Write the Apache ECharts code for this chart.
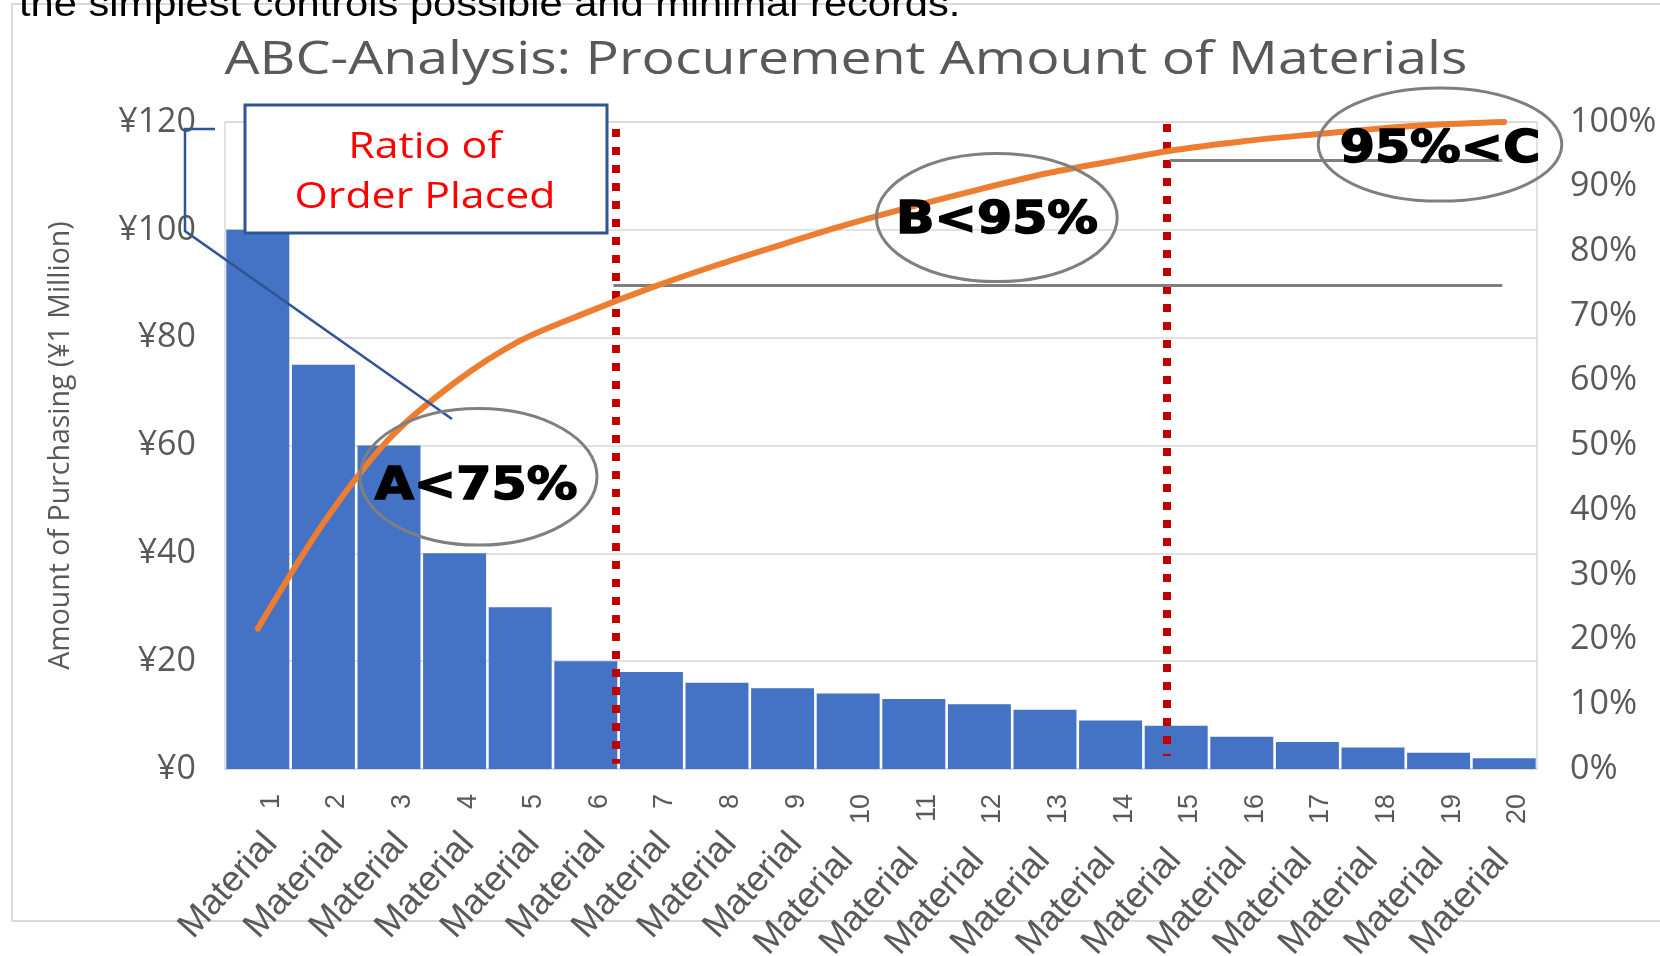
<!DOCTYPE html>
<html><head><meta charset="utf-8">
<script src="https://cdn.jsdelivr.net/npm/echarts@6/dist/echarts.min.js"></script>
<style>html,body{margin:0;padding:0;background:#fff;}#c{width:1660px;height:956px;}</style>
</head><body><div id="c"></div>
<script>
const titleText = 'ABC-Analysis: Procurement Amount of Materials';
const categories = ['Material 1','Material 2','Material 3','Material 4','Material 5','Material 6','Material 7','Material 8','Material 9','Material 10','Material 11','Material 12','Material 13','Material 14','Material 15','Material 16','Material 17','Material 18','Material 19','Material 20'];
const amounts = [100,75,60,40,30,20,18,16,15,14,13,12,11,9,8,6,5,4,3,2];
const cumulativePct = [21.7,38,51,59.7,66.2,70.5,74.4,77.9,81.1,84.2,87,89.6,92,93.9,95.7,97,98,98.9,99.6,100];
const leftAxisName = 'Amount of Purchasing (¥1 Million)';
const zoneLabels = ['A<75%','B<95%','95%<C'];
const calloutText = 'Ratio of\nOrder Placed';
const topNote = 'the simplest controls possible and minimal records.';

const chart = echarts.init(document.getElementById('c'), null, {renderer:'canvas'});
const gray = '#595959';
const font = "'Open Sans', sans-serif";
const red = {color:'#C00000', width:8, type:[8,10], cap:'butt'};
const grayLine = {color:'#7F7F7F', width:3, type:'solid'};
const zoneFont = "bold 44px 'DejaVu Sans'";

chart.setOption({
  animation:false,
  backgroundColor:'#fff',
  grid:{left:225, top:122, width:1312, height:647, show:true, borderColor:'#D9D9D9', borderWidth:1.5,
    containLabel:false, outerBoundsMode:'none'},
  xAxis:[{
    type:'category', data:categories, position:'bottom',
    axisTick:{show:false},
    axisLine:{lineStyle:{color:'#D9D9D9', width:1.5}},
    axisLabel:{rotate:90, interval:0, color:gray, fontSize:27, fontFamily:'Liberation Sans', margin:25,
      verticalAlign:'top', formatter:function(v){return v.split(' ')[1];}}
  },{
    type:'value', min:0, max:20, show:false, position:'top'
  },{
    type:'category', data:categories, position:'bottom',
    axisTick:{show:false}, axisLine:{show:false}, splitLine:{show:false},
    axisLabel:{rotate:48, interval:0, color:gray, fontSize:36, fontFamily:'Liberation Sans', margin:57,
      verticalAlign:'top',
      formatter:function(v){
        const parts = v.split(' ');
        return parts[1].length > 1 ? '{w|' + parts[0] + '}' : '{n|' + parts[0] + '}';
      },
      rich:{n:{}, w:{padding:[0,22,0,0]}}
    }
  }],
  yAxis:[{
    type:'value', min:0, max:120, interval:20,
    axisLabel:{formatter:'¥{value}', color:gray, fontSize:34, fontFamily:font, margin:29},
    splitLine:{lineStyle:{color:'#D9D9D9', width:1.5}},
    axisLine:{show:false}, axisTick:{show:false},
    name:leftAxisName, nameLocation:'middle', nameRotate:90, nameGap:150,
    nameTextStyle:{color:gray, fontSize:28.5, fontFamily:font}
  },{
    type:'value', min:0, max:100, interval:10, position:'right',
    axisLabel:{formatter:'{value}%', color:gray, fontSize:34, fontFamily:font, margin:33},
    splitLine:{show:false}, axisLine:{show:false}, axisTick:{show:false}
  }],
  series:[{
    type:'bar', data:amounts, barCategoryGap:'4%',
    itemStyle:{color:'#4472C4'}, z:2
  },{
    type:'line', data:cumulativePct, yAxisIndex:1, smooth:0.3, symbol:'none',
    lineStyle:{color:'#ED7D31', width:6, cap:'round'}, z:5
  },{
    type:'line', xAxisIndex:1, yAxisIndex:1, data:[], symbol:'none', z:4,
    markLine:{
      silent:true, symbol:['none','none'], label:{show:false}, animation:false,
      data:[
        [{coord:[5.95,98.9], lineStyle:red},{coord:[5.95,0.8]}],
        [{coord:[14.35,99.7], lineStyle:red},{coord:[14.35,2.0]}],
        [{coord:[5.92,74.7], lineStyle:grayLine},{coord:[19.47,74.7]}],
        [{coord:[14.4,94.1], lineStyle:grayLine},{coord:[19.47,94.1]}]
      ]
    }
  },{
    type:'line', xAxisIndex:2, data:[], symbol:'none'
  }],
  graphic:[
    {type:'rect', z:-10, shape:{x:12,y:4,width:1700,height:917}, style:{fill:'none', stroke:'#D9D9D9', lineWidth:2}},
    {type:'text', z:100, x:19, y:24, scaleX:1.156, style:{text:topNote, font:"36px 'Liberation Sans'", fill:'#000', verticalAlign:'bottom'}},
    {type:'text', z:100, x:846, y:61, scaleX:1.205, style:{text:titleText, font:"46px "+font, fill:gray, align:'center', verticalAlign:'middle'}},
    {type:'polyline', z:100, shape:{points:[[215,129],[185,129],[185,231],[452,419]]}, style:{stroke:'#2F5597', lineWidth:2.5, fill:'none'}},
    {type:'rect', z:100, shape:{x:245,y:105,width:362,height:128}, style:{fill:'#fff', stroke:'#2F5597', lineWidth:3}},
    {type:'text', z:101, x:425, y:173, scaleX:1.19, style:{text:calloutText, font:"36px "+font, fill:'#FF0000', align:'center', verticalAlign:'middle', lineHeight:50}},
    {type:'ellipse', z:100, shape:{cx:478.5, cy:476.8, rx:118.5, ry:68.3}, style:{fill:'none', stroke:'#7F7F7F', lineWidth:3}},
    {type:'ellipse', z:100, shape:{cx:996.8, cy:217.6, rx:120.4, ry:64}, style:{fill:'none', stroke:'#7F7F7F', lineWidth:3}},
    {type:'ellipse', z:100, shape:{cx:1440, cy:144.5, rx:121.8, ry:56.6}, style:{fill:'none', stroke:'#7F7F7F', lineWidth:3}},
    {type:'text', z:101, x:476, y:488, scaleX:1.15, style:{text:zoneLabels[0], font:zoneFont, fill:'#000', stroke:'#000', lineWidth:1.5, align:'center', verticalAlign:'middle'}},
    {type:'text', z:101, x:997, y:222, scaleX:1.15, style:{text:zoneLabels[1], font:zoneFont, fill:'#000', stroke:'#000', lineWidth:1.5, align:'center', verticalAlign:'middle'}},
    {type:'text', z:101, x:1440, y:151, scaleX:1.15, style:{text:zoneLabels[2], font:zoneFont, fill:'#000', stroke:'#000', lineWidth:1.5, align:'center', verticalAlign:'middle'}}
  ]
});
</script></body></html>
